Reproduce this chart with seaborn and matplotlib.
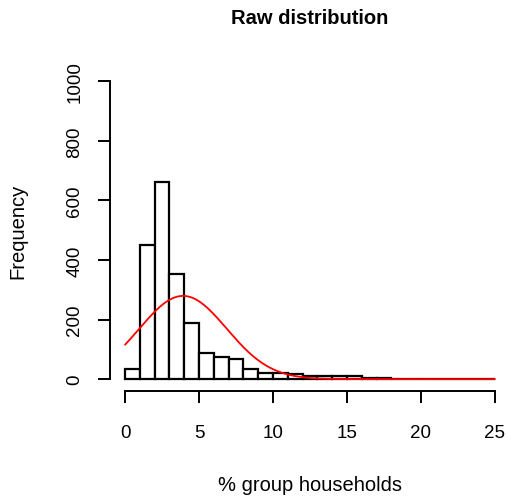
import numpy as np
import pandas as pd
import seaborn as sns
import matplotlib.pyplot as plt

# counts per 1-unit bin (bins 0-1 ... 24-25)
bin_left = list(range(0, 25))
counts = [35, 450, 660, 352, 190, 88, 74, 66, 33, 22, 19, 16, 12, 11, 11, 10,
          5, 5, 2, 1, 1, 0, 0, 1, 2]

# fitted normal overlay (mean, sd of the raw data)
fit_mean = 3.92
fit_sd = 2.95

sns.set_style("white")
plt.rcParams['font.family'] = ['Liberation Sans', 'DejaVu Sans']

df = pd.DataFrame({'pct': [b + 0.5 for b in bin_left], 'n': counts})
edges = list(range(0, 26))

fig = plt.figure(figsize=(5.07, 5.02), dpi=100)
ax = fig.add_axes([0.2174, 0.219, 0.788, 0.641])

sns.histplot(data=df, x='pct', weights='n', bins=edges, color='white',
             edgecolor='black', linewidth=1.6, alpha=1, ax=ax)

n_total = sum(counts)
xs = np.linspace(0, 25, 400)
ys = n_total * np.exp(-(xs - fit_mean) ** 2 / (2 * fit_sd ** 2)) / (fit_sd * np.sqrt(2 * np.pi))
sns.lineplot(x=xs, y=ys, color='red', linewidth=1.3, ax=ax)

ax.set_xlim(-1, 26)
ax.set_ylim(-40, 1040)
for s in ['top', 'right']:
    ax.spines[s].set_visible(False)
ax.spines['left'].set_bounds(0, 1000)
ax.spines['bottom'].set_bounds(0, 25)
for s in ['left', 'bottom']:
    ax.spines[s].set_linewidth(1.4)
    ax.spines[s].set_color('black')
ax.set_xticks([0, 5, 10, 15, 20, 25])
ax.set_yticks([0, 200, 400, 600, 800, 1000])
ax.tick_params(axis='both', left=True, bottom=True, direction='out', length=8.5,
               width=1.4, labelsize=13.5, colors='black')
ax.tick_params(axis='x', pad=15)
ax.tick_params(axis='y', pad=11)
plt.setp(ax.get_yticklabels(), rotation=90, va='center')

ax.set_xlabel('% group households', fontsize=14.5, color='black', va='center')
ax.xaxis.set_label_coords(0.5, -0.289)
ax.set_ylabel('Frequency', fontsize=14.5, color='black', va='center')
ax.yaxis.set_label_coords(-0.2307, 0.5)
ax.set_title('Raw distribution', fontsize=14.5, fontweight='bold', color='black',
             y=1.162, va='center', pad=0)

fig.savefig('out.png', dpi=100)
